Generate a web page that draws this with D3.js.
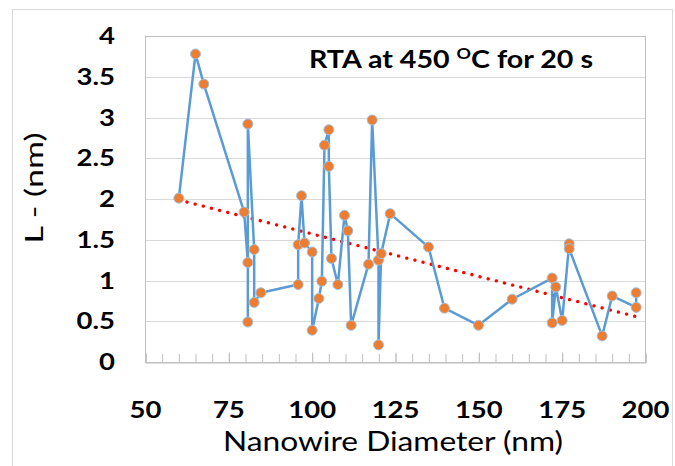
<!DOCTYPE html>
<html>
<head>
<meta charset="utf-8">
<script src="https://cdn.jsdelivr.net/npm/d3@7"></script>
<style>
  html, body { margin: 0; padding: 0; background: #fff; }
  svg { display: block; }
</style>
</head>
<body>
<svg id="chart" width="675" height="466"></svg>
<script>
// ---- data ----
const diameters = [60, 65, 67.5, 79.6, 80.7, 80.7, 80.7, 82.6, 82.6, 84.6, 95.8, 95.8, 96.8, 97.7, 100, 100, 102, 102.9, 103.7, 105, 105, 105.8, 107.7, 109.7, 110.7, 111.7, 116.9, 118, 119.9, 119.9, 120.7, 123.4, 134.9, 139.7, 149.9, 160, 172, 172, 173.1, 175, 177.1, 177.1, 187, 190, 197.2, 197.2];
const lValues  = [2.01, 3.78, 3.41, 1.84, 1.22, 0.49, 2.92, 1.38, 0.73, 0.85, 0.95, 1.44, 2.04, 1.46, 1.35, 0.39, 0.78, 0.99, 2.66, 2.85, 2.40, 1.27, 0.95, 1.80, 1.61, 0.45, 1.20, 2.97, 1.25, 0.21, 1.33, 1.82, 1.41, 0.66, 0.45, 0.77, 1.03, 0.48, 0.92, 0.51, 1.45, 1.39, 0.32, 0.81, 0.67, 0.85];
const xTicks = [50, 75, 100, 125, 150, 175, 200];
const xMinorTicks = d3.range(50, 201, 5);
const yTicks = [0, 0.5, 1, 1.5, 2, 2.5, 3, 3.5, 4];
const titleText = "RTA at 450 ";
const titleSup = "O";
const titleRest = "C for 20 s";
const xTitle = "Nanowire Diameter (nm)";
const yTitle = "L - (nm)";

const points = diameters.map((d, i) => ({x: d, y: lValues[i]}));

// ---- layout ----
const svg = d3.select("#chart");
const plot = {left: 145.5, right: 645.5, top: 36, bottom: 362};
const x = d3.scaleLinear().domain([50, 200]).range([plot.left, plot.right]);
const y = d3.scaleLinear().domain([0, 4]).range([plot.bottom, plot.top]);
const FONT = "Lato, 'Open Sans', sans-serif";

// outer chart frame
svg.append("rect").attr("x", 12.5).attr("y", 9.5).attr("width", 660).attr("height", 470)
  .attr("fill", "none").attr("stroke", "#d9d9d9").attr("stroke-width", 1);

// gridlines
svg.append("g").selectAll("line").data(yTicks.filter(t => t > 0 && t < 4)).join("line")
  .attr("x1", plot.left).attr("x2", plot.right)
  .attr("y1", d => Math.round(y(d)) + 0.5).attr("y2", d => Math.round(y(d)) + 0.5)
  .attr("stroke", "#d9d9d9").attr("stroke-width", 1);

// plot border
svg.append("rect").attr("x", plot.left).attr("y", plot.top + 0.5)
  .attr("width", plot.right - plot.left).attr("height", plot.bottom - plot.top)
  .attr("fill", "none").attr("stroke", "#bfbfbf").attr("stroke-width", 1);

// x axis ticks (inside, pointing up)
const xAxisG = svg.append("g").attr("transform", `translate(0,${plot.bottom + 0.5})`);
xAxisG.call(d3.axisBottom(x).tickValues(xMinorTicks).tickSize(-8.5).tickFormat(""))
  .call(g => g.select(".domain").attr("stroke", "#bfbfbf"))
  .call(g => g.selectAll(".tick line").attr("stroke", "#bfbfbf"));
xAxisG.append("g").call(d3.axisBottom(x).tickValues(xTicks).tickSize(-10).tickFormat(""))
  .call(g => g.select(".domain").remove())
  .call(g => g.selectAll(".tick line").attr("stroke", "#bfbfbf"));

// x tick labels
svg.append("g").selectAll("text").data(xTicks).join("text")
  .attr("transform", d => `translate(${x(d)},418) scale(1.25,1)`)
  .attr("text-anchor", "middle")
  .attr("font-family", FONT).attr("font-weight", "bold").attr("font-size", 22)
  .attr("fill", "#000").text(d => d3.format("d")(d));

// y tick labels
svg.append("g").selectAll("text").data(yTicks).join("text")
  .attr("transform", d => `translate(115,${y(d) + 8}) scale(1.25,1)`)
  .attr("text-anchor", "end")
  .attr("font-family", FONT).attr("font-weight", "bold").attr("font-size", 22)
  .attr("fill", "#000").text(d => d3.format("~g")(d));

// trendline (least squares)
const mx = d3.mean(points, p => p.x), my = d3.mean(points, p => p.y);
const slope = d3.sum(points, p => (p.x - mx) * (p.y - my)) / d3.sum(points, p => (p.x - mx) ** 2);
const intercept = my - slope * mx;
const xr = d3.extent(diameters);
svg.append("line")
  .attr("x1", x(xr[0])).attr("y1", y(intercept + slope * xr[0]))
  .attr("x2", x(xr[1])).attr("y2", y(intercept + slope * xr[1]))
  .attr("stroke", "#ff0000").attr("stroke-width", 3.3)
  .attr("stroke-linecap", "round").attr("stroke-dasharray", "0.1 8.3");

// connecting line
svg.append("path").datum(points)
  .attr("d", d3.line().x(p => x(p.x)).y(p => y(p.y)))
  .attr("fill", "none").attr("stroke", "#5b9bd5").attr("stroke-width", 2.5)
  .attr("stroke-linejoin", "round");

// markers
svg.append("g").selectAll("circle").data(points).join("circle")
  .attr("cx", p => x(p.x)).attr("cy", p => y(p.y)).attr("r", 5)
  .attr("fill", "#ed7d31").attr("stroke", "#9dc3e6").attr("stroke-width", 1);

// title inside plot
const t = svg.append("text").attr("x", 309).attr("y", 68)
  .attr("font-family", FONT).attr("font-weight", "bold").attr("font-size", 24)
  .attr("fill", "#000").attr("textLength", 284).attr("lengthAdjust", "spacingAndGlyphs");
t.append("tspan").text(titleText);
t.append("tspan").attr("font-size", 15).attr("dy", -9).text(titleSup);
t.append("tspan").attr("dy", 9).text(titleRest);

// axis titles
svg.append("text").attr("x", 393).attr("y", 451).attr("text-anchor", "middle")
  .attr("font-family", FONT).attr("font-size", 26).attr("fill", "#000")
  .attr("textLength", 340).attr("lengthAdjust", "spacingAndGlyphs").text(xTitle);

svg.append("text").attr("transform", "translate(43,188) rotate(-90)").attr("text-anchor", "middle")
  .attr("font-family", FONT).attr("font-size", 25).attr("fill", "#000")
  .attr("textLength", 111).attr("lengthAdjust", "spacingAndGlyphs").text(yTitle);
</script>
</body>
</html>
